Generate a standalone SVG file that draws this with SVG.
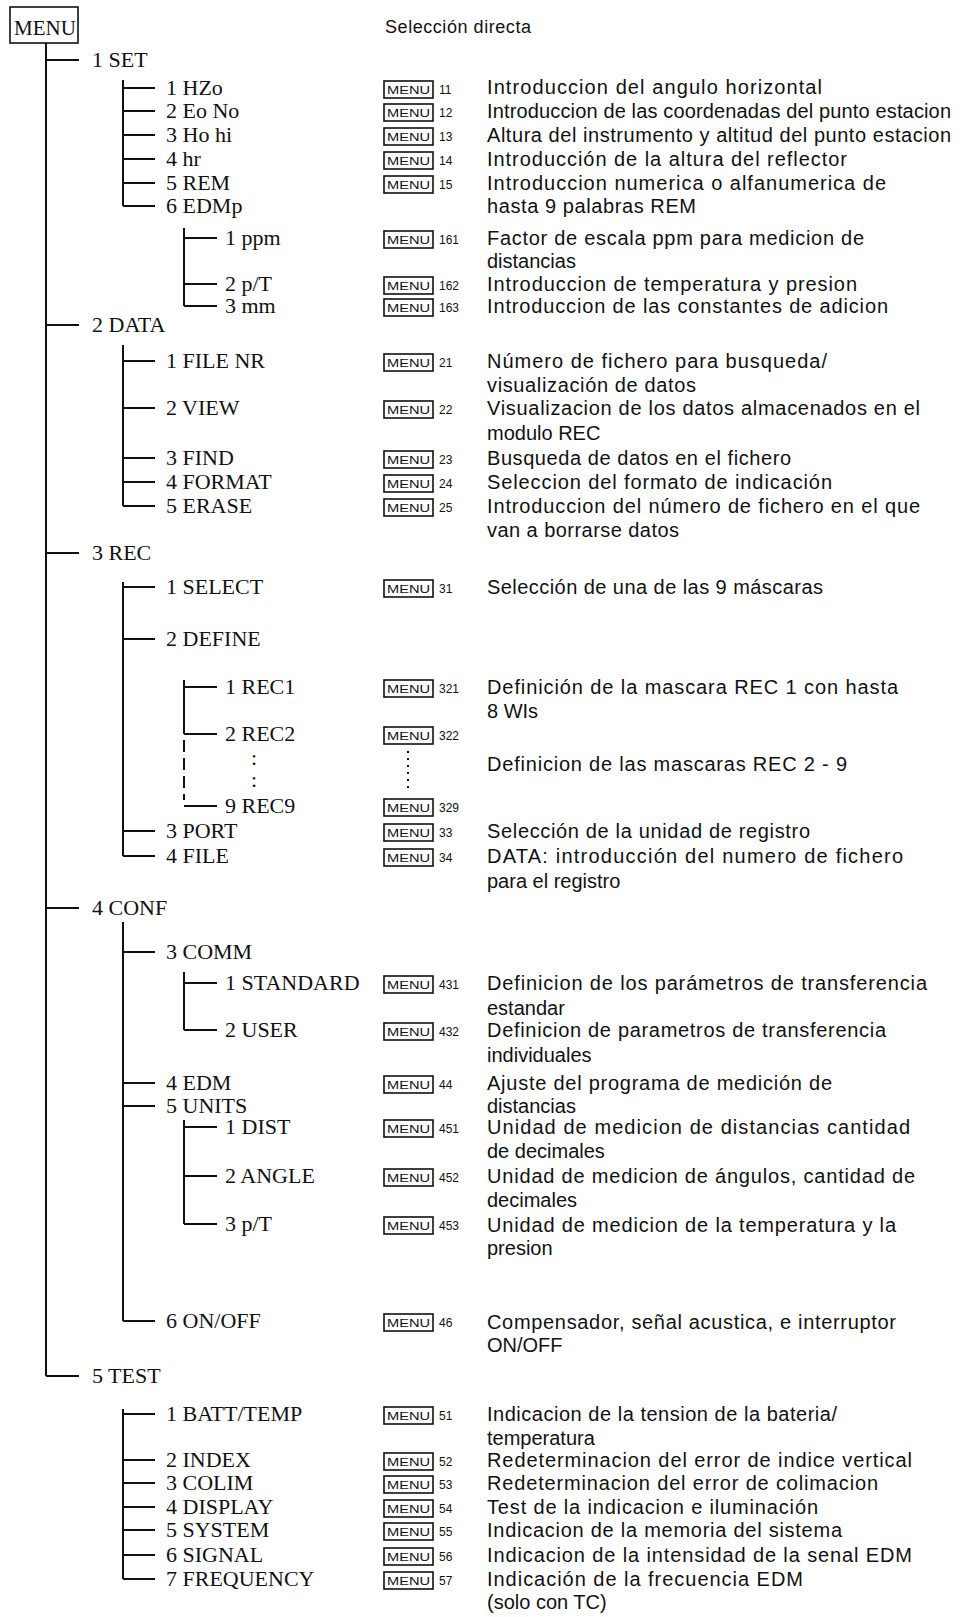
<svg xmlns="http://www.w3.org/2000/svg" width="960" height="1617" viewBox="0 0 960 1617">
<style>
.t{font-family:"Liberation Serif",serif;font-size:22px;fill:#111}
.d{font-family:"Liberation Sans",sans-serif;font-size:20px;fill:#111}
.s{font-family:"Liberation Sans",sans-serif;font-size:20px;fill:#111}
.h{font-family:"Liberation Sans",sans-serif;font-size:18px;fill:#111}
.kb{fill:none;stroke:#111;stroke-width:1.6}
.kt{font-family:"Liberation Sans",sans-serif;font-size:11px;fill:#111}
.kc{font-family:"Liberation Sans",sans-serif;font-size:12px;fill:#111}
.ln{fill:none;stroke:#111;stroke-width:2}
.dash{fill:none;stroke:#111;stroke-width:2;stroke-dasharray:12 6}
.dot{fill:none;stroke:#111;stroke-width:2;stroke-dasharray:2 5}
</style>
<defs>
<g id="key"><rect class="kb" x="0" y="0" width="49" height="17"/><text class="kt" x="3" y="13" textLength="43" lengthAdjust="spacingAndGlyphs">MENU</text></g>
</defs>
<rect width="960" height="1617" fill="#fff"/>

<g id="connectors">
<path class="ln" d="M46,43 V1376 M46,60 H79 M46,325 H79 M46,553 H79 M46,908 H79 M46,1376 H79"/>
<path class="ln" d="M123,80 V206 M123,88 H155 M123,111 H155 M123,135 H155 M123,159 H155 M123,183 H155 M123,206 H155"/>
<path class="ln" d="M184,228 V306 M184,238 H217 M184,284 H217 M184,306 H217"/>
<path class="ln" d="M123,345 V506 M123,361 H155 M123,408 H155 M123,458 H155 M123,482 H155 M123,506 H155"/>
<path class="ln" d="M123,582 V856 M123,587 H155 M123,639 H155 M123,831 H155 M123,856 H155"/>
<path class="ln" d="M184,680 V734 M184,687 H217 M184,734 H217 M184,806 H217"/>
<path class="dash" d="M184,740 V800"/>
<path class="ln" d="M123,922 V1321 M123,952 H155 M123,1083 H155 M123,1106 H155 M123,1321 H155"/>
<path class="ln" d="M184,972 V1030 M184,983 H217 M184,1030 H217"/>
<path class="ln" d="M184,1120 V1224 M184,1127 H217 M184,1176 H217 M184,1224 H217"/>
<path class="ln" d="M123,1409 V1579 M123,1414 H155 M123,1460 H155 M123,1483 H155 M123,1507 H155 M123,1530 H155 M123,1555 H155 M123,1579 H155"/>
<path class="dot" d="M408,751 V788"/>
</g>

<g id="menu"><rect class="kb" x="10" y="7" width="68" height="36"/><text class="t" x="14" y="35" style="font-size:21px">MENU</text></g>
<g id="header"><text class="h" x="385" y="33" textLength="146">Selección directa</text></g>

<g id="n1"><text class="t" x="92" y="67">1 SET</text></g>
<g id="n11"><text class="t" x="166" y="95">1 HZo</text><use href="#key" x="384" y="81"/><text class="kc" x="439" y="94">11</text><text class="d" x="487" y="94" textLength="335">Introduccion del angulo horizontal</text></g>
<g id="n12"><text class="t" x="166" y="118">2 Eo No</text><use href="#key" x="384" y="104"/><text class="kc" x="439" y="117">12</text><text class="d" x="487" y="118" textLength="464">Introduccion de las coordenadas del punto estacion</text></g>
<g id="n13"><text class="t" x="166" y="142">3 Ho hi</text><use href="#key" x="384" y="128"/><text class="kc" x="439" y="141">13</text><text class="d" x="487" y="142" textLength="464">Altura del instrumento y altitud del punto estacion</text></g>
<g id="n14"><text class="t" x="166" y="166">4 hr</text><use href="#key" x="384" y="152"/><text class="kc" x="439" y="165">14</text><text class="d" x="487" y="166" textLength="360">Introducción de la altura del reflector</text></g>
<g id="n15"><text class="t" x="166" y="190">5 REM</text><use href="#key" x="384" y="176"/><text class="kc" x="439" y="189">15</text><text class="d" x="487" y="190" textLength="399">Introduccion numerica o alfanumerica de</text><text class="d" x="487" y="213" textLength="209">hasta 9 palabras REM</text></g>
<g id="n16"><text class="t" x="166" y="213">6 EDMp</text></g>
<g id="n161"><text class="t" x="225" y="245">1 ppm</text><use href="#key" x="384" y="231"/><text class="kc" x="439" y="244">161</text><text class="d" x="487" y="245" textLength="377">Factor de escala ppm para medicion de</text><text class="s" x="487" y="268">distancias</text></g>
<g id="n162"><text class="t" x="225" y="291">2 p/T</text><use href="#key" x="384" y="277"/><text class="kc" x="439" y="290">162</text><text class="d" x="487" y="291" textLength="370">Introduccion de temperatura y presion</text></g>
<g id="n163"><text class="t" x="225" y="313">3 mm</text><use href="#key" x="384" y="299"/><text class="kc" x="439" y="312">163</text><text class="d" x="487" y="313" textLength="401">Introduccion de las constantes de adicion</text></g>

<g id="n2"><text class="t" x="92" y="332">2 DATA</text></g>
<g id="n21"><text class="t" x="166" y="368">1 FILE NR</text><use href="#key" x="384" y="354"/><text class="kc" x="439" y="367">21</text><text class="d" x="487" y="368" textLength="340">Número de fichero para busqueda/</text><text class="d" x="487" y="392" textLength="209">visualización de datos</text></g>
<g id="n22"><text class="t" x="166" y="415">2 VIEW</text><use href="#key" x="384" y="401"/><text class="kc" x="439" y="414">22</text><text class="d" x="487" y="415" textLength="433">Visualizacion de los datos almacenados en el</text><text class="s" x="487" y="440">modulo REC</text></g>
<g id="n23"><text class="t" x="166" y="465">3 FIND</text><use href="#key" x="384" y="451"/><text class="kc" x="439" y="464">23</text><text class="d" x="487" y="465" textLength="304">Busqueda de datos en el fichero</text></g>
<g id="n24"><text class="t" x="166" y="489">4 FORMAT</text><use href="#key" x="384" y="475"/><text class="kc" x="439" y="488">24</text><text class="d" x="487" y="489" textLength="345">Seleccion del formato de indicación</text></g>
<g id="n25"><text class="t" x="166" y="513">5 ERASE</text><use href="#key" x="384" y="499"/><text class="kc" x="439" y="512">25</text><text class="d" x="487" y="513" textLength="433">Introduccion del número de fichero en el que</text><text class="d" x="487" y="537" textLength="192">van a borrarse datos</text></g>

<g id="n3"><text class="t" x="92" y="560">3 REC</text></g>
<g id="n31"><text class="t" x="166" y="594">1 SELECT</text><use href="#key" x="384" y="580"/><text class="kc" x="439" y="593">31</text><text class="d" x="487" y="594" textLength="336">Selección de una de las 9 máscaras</text></g>
<g id="n32"><text class="t" x="166" y="646">2 DEFINE</text></g>
<g id="n321"><text class="t" x="225" y="694">1 REC1</text><use href="#key" x="384" y="680"/><text class="kc" x="439" y="693">321</text><text class="d" x="487" y="694" textLength="411">Definición de la mascara REC 1 con hasta</text><text class="s" x="487" y="718">8 WIs</text></g>
<g id="n322"><text class="t" x="225" y="741">2 REC2</text><use href="#key" x="384" y="727"/><text class="kc" x="439" y="740">322</text><text class="t" x="251" y="765">:</text><text class="t" x="251" y="787">:</text><text class="d" x="487" y="771" textLength="360">Definicion de las mascaras REC 2 - 9</text></g>
<g id="n329"><text class="t" x="225" y="813">9 REC9</text><use href="#key" x="384" y="799"/><text class="kc" x="439" y="812">329</text></g>
<g id="n33"><text class="t" x="166" y="838">3 PORT</text><use href="#key" x="384" y="824"/><text class="kc" x="439" y="837">33</text><text class="d" x="487" y="838" textLength="323">Selección de la unidad de registro</text></g>
<g id="n34"><text class="t" x="166" y="863">4 FILE</text><use href="#key" x="384" y="849"/><text class="kc" x="439" y="862">34</text><text class="d" x="487" y="863" textLength="416">DATA: introducción del numero de fichero</text><text class="s" x="487" y="888">para el registro</text></g>

<g id="n4"><text class="t" x="92" y="915">4 CONF</text></g>
<g id="n43"><text class="t" x="166" y="959">3 COMM</text></g>
<g id="n431"><text class="t" x="225" y="990">1 STANDARD</text><use href="#key" x="384" y="976"/><text class="kc" x="439" y="989">431</text><text class="d" x="487" y="990" textLength="440">Definicion de los parámetros de transferencia</text><text class="s" x="487" y="1015">estandar</text></g>
<g id="n432"><text class="t" x="225" y="1037">2 USER</text><use href="#key" x="384" y="1023"/><text class="kc" x="439" y="1036">432</text><text class="d" x="487" y="1037" textLength="399">Definicion de parametros de transferencia</text><text class="s" x="487" y="1062">individuales</text></g>
<g id="n44"><text class="t" x="166" y="1090">4 EDM</text><use href="#key" x="384" y="1076"/><text class="kc" x="439" y="1089">44</text><text class="d" x="487" y="1090" textLength="345">Ajuste del programa de medición de</text><text class="s" x="487" y="1113">distancias</text></g>
<g id="n45"><text class="t" x="166" y="1113">5 UNITS</text></g>
<g id="n451"><text class="t" x="225" y="1134">1 DIST</text><use href="#key" x="384" y="1120"/><text class="kc" x="439" y="1133">451</text><text class="d" x="487" y="1134" textLength="423">Unidad de medicion de distancias  cantidad</text><text class="s" x="487" y="1158">de decimales</text></g>
<g id="n452"><text class="t" x="225" y="1183">2 ANGLE</text><use href="#key" x="384" y="1169"/><text class="kc" x="439" y="1182">452</text><text class="d" x="487" y="1183" textLength="428">Unidad de medicion de ángulos, cantidad de</text><text class="s" x="487" y="1207">decimales</text></g>
<g id="n453"><text class="t" x="225" y="1231">3 p/T</text><use href="#key" x="384" y="1217"/><text class="kc" x="439" y="1230">453</text><text class="d" x="487" y="1232" textLength="409">Unidad de medicion de la temperatura y la</text><text class="s" x="487" y="1255">presion</text></g>
<g id="n46"><text class="t" x="166" y="1328">6 ON/OFF</text><use href="#key" x="384" y="1314"/><text class="kc" x="439" y="1327">46</text><text class="d" x="487" y="1329" textLength="409">Compensador, señal acustica, e interruptor</text><text class="s" x="487" y="1352">ON/OFF</text></g>

<g id="n5"><text class="t" x="92" y="1383">5 TEST</text></g>
<g id="n51"><text class="t" x="166" y="1421">1 BATT/TEMP</text><use href="#key" x="384" y="1407"/><text class="kc" x="439" y="1420">51</text><text class="d" x="487" y="1421" textLength="350">Indicacion de la tension de la bateria/</text><text class="s" x="487" y="1445">temperatura</text></g>
<g id="n52"><text class="t" x="166" y="1467">2 INDEX</text><use href="#key" x="384" y="1453"/><text class="kc" x="439" y="1466">52</text><text class="d" x="487" y="1467" textLength="425">Redeterminacion del error de indice vertical</text></g>
<g id="n53"><text class="t" x="166" y="1490">3 COLIM</text><use href="#key" x="384" y="1476"/><text class="kc" x="439" y="1489">53</text><text class="d" x="487" y="1490" textLength="391">Redeterminacion del error de colimacion</text></g>
<g id="n54"><text class="t" x="166" y="1514">4 DISPLAY</text><use href="#key" x="384" y="1500"/><text class="kc" x="439" y="1513">54</text><text class="d" x="487" y="1514" textLength="331">Test de la indicacion e iluminación</text></g>
<g id="n55"><text class="t" x="166" y="1537">5 SYSTEM</text><use href="#key" x="384" y="1523"/><text class="kc" x="439" y="1536">55</text><text class="d" x="487" y="1537" textLength="355">Indicacion de la memoria del sistema</text></g>
<g id="n56"><text class="t" x="166" y="1562">6 SIGNAL</text><use href="#key" x="384" y="1548"/><text class="kc" x="439" y="1561">56</text><text class="d" x="487" y="1562" textLength="425">Indicacion de la intensidad de la senal EDM</text></g>
<g id="n57"><text class="t" x="166" y="1586">7 FREQUENCY</text><use href="#key" x="384" y="1572"/><text class="kc" x="439" y="1585">57</text><text class="d" x="487" y="1586" textLength="316">Indicación de la frecuencia EDM</text><text class="s" x="487" y="1609">(solo con TC)</text></g>
</svg>
